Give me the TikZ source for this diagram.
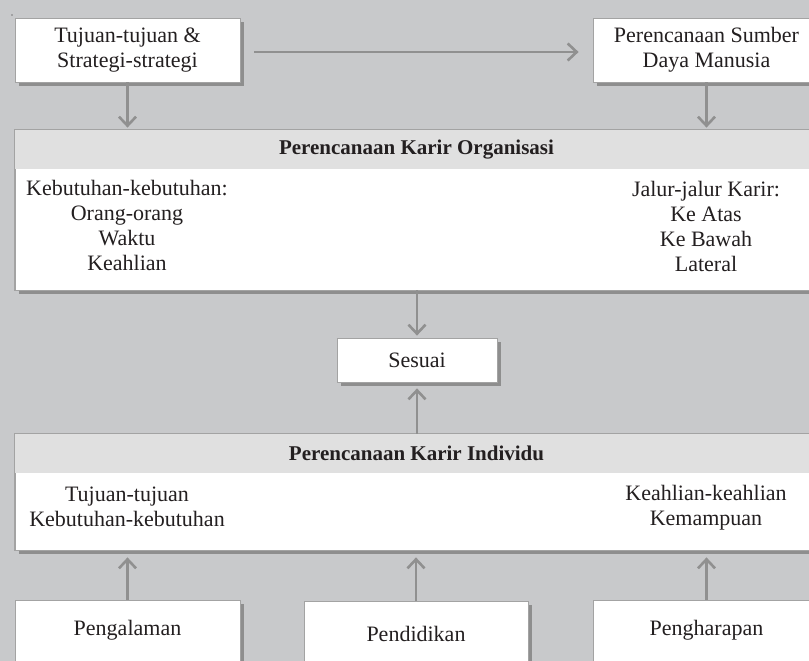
\documentclass[tikz,border=0pt]{standalone}
\usepackage{fontspec}
\setmainfont{Liberation Serif}
\usetikzlibrary{arrows.meta,shadows,calc}

\definecolor{bgc}{HTML}{C8C9CB}
\definecolor{headc}{HTML}{E0E0E0}
\definecolor{edgec}{HTML}{A3A3A3}
\definecolor{shadowc}{HTML}{8E8E8E}
\definecolor{arrc}{HTML}{909090}
\definecolor{inkc}{HTML}{231F20}

\tikzset{
  box/.style={draw=edgec, line width=0.8pt, fill=white, inner sep=0pt,
    drop shadow={shadow xshift=3.5pt, shadow yshift=-4pt, fill=shadowc, opacity=1}},
  headband/.style={fill=headc, inner sep=0pt, anchor=north west},
  txt/.style={text=inkc, inner sep=0pt, align=center,
    font=\fontsize{22}{25}\selectfont},
  ttl/.style={text=inkc, inner sep=0pt,
    font=\fontsize{21}{24}\selectfont\bfseries},
  arr/.style={draw=arrc, line width=2.6pt,
    -{Straight Barb[length=9pt, width=17pt, line width=2.6pt]}},
}

\begin{document}
\begin{tikzpicture}[x=1pt, y=-1pt]
\useasboundingbox (0,0) rectangle (809,661);
\clip (0,0) rectangle (809,661);
\fill[bgc] (0,0) rectangle (809,661);
\fill[inkc] (12,15) circle (0.7pt);

% top row
\node[box, txt, minimum width=225pt, minimum height=64pt] (goals) at (127.5,50)
  {Tujuan-tujuan \&\\Strategi-strategi};
\node[box, txt, minimum width=227pt, minimum height=64pt] (hrp) at (706.5,50)
  {Perencanaan Sumber\\Daya Manusia};

% organisational career planning
\node[box, minimum width=805pt, minimum height=160pt] (org) at (417.5,210) {};
\node[headband, minimum width=805pt, minimum height=39pt] (orghead) at (org.north west) {};
\draw[edgec, line width=0.8pt] (org.north west) rectangle (org.south east);
\node[ttl] (orgtitle) at (416.5,149.5) {Perencanaan Karir Organisasi};
\node[txt, anchor=north] (orgneeds) at (127,180.5)
  {Kebutuhan-kebutuhan:\\Orang-orang\\Waktu\\Keahlian};
\node[txt, anchor=north] (orgpaths) at (706,181.5)
  {Jalur-jalur Karir:\\Ke Atas\\Ke Bawah\\Lateral};

% match
\node[box, txt, minimum width=160pt, minimum height=44pt] (fit) at (417,360) {Sesuai};

% individual career planning
\node[box, minimum width=805pt, minimum height=116pt] (ind) at (417.5,492) {};
\node[headband, minimum width=805pt, minimum height=39pt] (indhead) at (ind.north west) {};
\draw[edgec, line width=0.8pt] (ind.north west) rectangle (ind.south east);
\node[ttl] (indtitle) at (416.5,453.5) {Perencanaan Karir Individu};
\node[txt, anchor=north] (indgoals) at (127,486.5)
  {Tujuan-tujuan\\Kebutuhan-kebutuhan};
\node[txt, anchor=north] (indskills) at (706,485.5)
  {Keahlian-keahlian\\Kemampuan};

% bottom row
\node[box, minimum width=225pt, minimum height=100pt] (exp) at (127.5,650) {};
\node[box, minimum width=224pt, minimum height=100pt] (edu) at (416,651) {};
\node[box, minimum width=227pt, minimum height=100pt] (hope) at (706.5,650) {};
\node[txt] (explbl) at (127.5,630) {Pengalaman};
\node[txt] (edulbl) at (416,634) {Pendidikan};
\node[txt] (hopelbl) at (706.5,630) {Pengharapan};

% connectors
\draw[arr, shorten <=14pt, shorten >=14pt] ([yshift=-2pt]goals.east) -- ([yshift=-2pt]hrp.west);
\draw[arr, shorten >=2pt] (goals.south) -- (goals.south |- org.north);
\draw[arr, shorten >=2pt] (hrp.south) -- (hrp.south |- org.north);
\draw[arr, shorten >=2pt] (org.south -| fit.north) -- (fit.north);
\draw[arr, shorten >=6pt] (ind.north -| fit.south) -- (fit.south);
\draw[arr, shorten >=7pt] (exp.north) -- (exp.north |- ind.south);
\draw[arr, shorten >=7pt] (edu.north) -- (edu.north |- ind.south);
\draw[arr, shorten >=7pt] (hope.north) -- (hope.north |- ind.south);
\end{tikzpicture}
\end{document}
